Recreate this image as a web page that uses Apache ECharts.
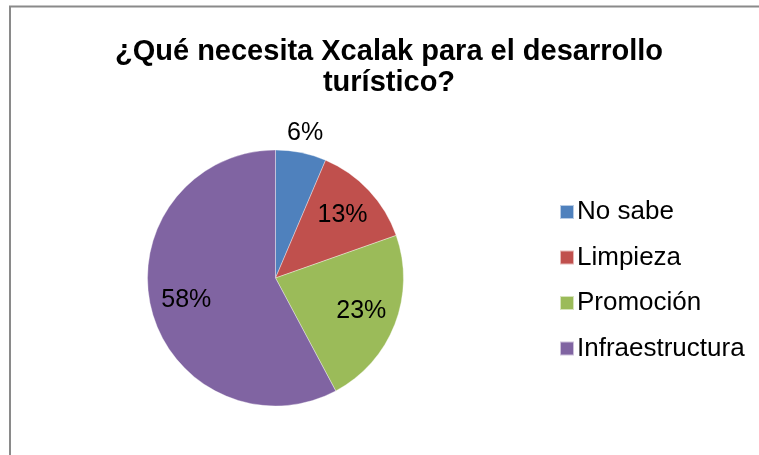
<!DOCTYPE html>
<html>
<head>
<meta charset="utf-8">
<script src="https://cdn.jsdelivr.net/npm/echarts@6/dist/echarts.min.js"></script>
<style>
  html, body { margin: 0; padding: 0; background: #fff; }
  #chart { width: 759px; height: 455px; }
</style>
</head>
<body>
<div id="chart"></div>
<script>
// datos del gráfico
var categorias = ['No sabe', 'Limpieza', 'Promoción', 'Infraestructura'];
var valores = [6.4, 13.2, 22.6, 57.8];
var colores = ['#4F81BD', '#C0504D', '#9BBB59', '#8064A2'];

var fuente = '"Liberation Sans", Arial, sans-serif';
var myChart = echarts.init(document.getElementById('chart'));

var total = valores.reduce(function (a, b) { return a + b; }, 0);
function pct(v) { return Math.round(v / total * 100) + '%'; }

// serie principal
var datosPie = categorias.map(function (c, i) {
    return { name: c, value: valores[i], itemStyle: { color: colores[i] } };
});
// series invisibles solo para colocar las etiquetas
var datosEtiqueta = categorias.map(function (c, i) {
    return { name: c, value: valores[i], label: { show: i > 0 } };
});
var datosEtiquetaExt = categorias.map(function (c, i) {
    return { name: c, value: valores[i], label: { show: i === 0 } };
});

var etiqueta = {
    position: 'inside',
    color: '#000',
    fontFamily: fuente,
    fontSize: 25,
    formatter: function (p) { return pct(p.value); }
};

var option = {
    backgroundColor: '#fff',
    animation: false,
    title: {
        text: '¿Qué necesita Xcalak para el desarrollo\nturístico?',
        left: 384,
        top: 31,
        textAlign: 'center',
        textStyle: {
            fontFamily: fuente,
            fontSize: 29,
            fontWeight: 'bold',
            lineHeight: 31,
            color: '#000'
        }
    },
    legend: {
        orient: 'vertical',
        left: 554,
        top: 194,
        itemWidth: 14,
        itemHeight: 14,
        itemGap: 19.5,
        icon: 'rect',
        data: categorias,
        textStyle: {
            fontFamily: fuente,
            fontSize: 26,
            lineHeight: 26,
            color: '#000',
            padding: [0, 0, 0, -2]
        }
    },
    graphic: [{
        type: 'rect',
        shape: { x: 10, y: 6.5, width: 800, height: 500 },
        style: { fill: 'none', stroke: '#8a8a8a', lineWidth: 2 },
        silent: true
    }],
    series: [
        {
            name: 'principal',
            type: 'pie',
            center: [275.5, 278],
            radius: [0, 128],
            startAngle: 90,
            clockwise: true,
            label: { show: false },
            labelLine: { show: false },
            itemStyle: { borderColor: 'rgba(255,255,255,0.6)', borderWidth: 0.6 },
            emphasis: { disabled: true },
            data: datosPie
        },
        {
            name: 'etiquetas',
            type: 'pie',
            center: [275.5, 278],
            radius: [48, 130],
            startAngle: 90,
            silent: true,
            itemStyle: { color: 'rgba(0,0,0,0)' },
            label: etiqueta,
            labelLine: { show: false },
            data: datosEtiqueta
        },
        {
            name: 'etiquetaExt',
            type: 'pie',
            center: [275.5, 278],
            radius: [136, 154],
            startAngle: 90,
            silent: true,
            itemStyle: { color: 'rgba(0,0,0,0)' },
            label: etiqueta,
            labelLine: { show: false },
            data: datosEtiquetaExt
        }
    ]
};

myChart.setOption(option);
</script>
</body>
</html>
